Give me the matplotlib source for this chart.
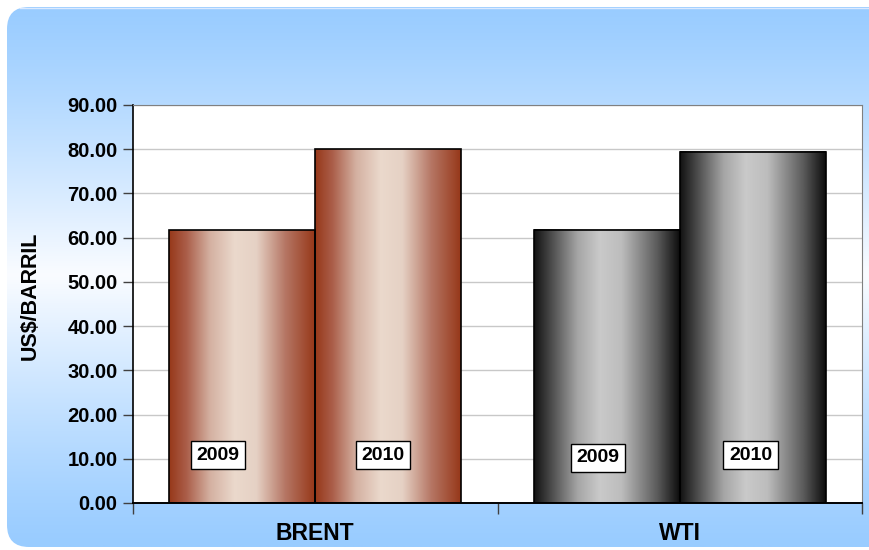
import matplotlib
matplotlib.use('Agg')
import matplotlib.pyplot as plt
import numpy as np
from matplotlib.colors import LinearSegmentedColormap
from matplotlib.patches import FancyBboxPatch, Rectangle

# data
categories = ["BRENT", "WTI"]
years = ["2009", "2010"]
values_2009 = [61.7, 61.8]
values_2010 = [80.0, 79.4]
yticks = [0, 10, 20, 30, 40, 50, 60, 70, 80, 90]

plt.rcParams['font.family'] = ['Liberation Sans', 'DejaVu Sans']
plt.rcParams['font.weight'] = 'bold'

W, H = 869, 550
fig = plt.figure(figsize=(W/100, H/100), dpi=100)
fig.patch.set_facecolor('white')

# background rounded panel with vertical gradient
bg = fig.add_axes([0, 0, 1, 1])
bg.set_xlim(0, W)
bg.set_ylim(H, 0)
bg.axis('off')
ys = np.linspace(0, 1, 300)
top = np.array([153, 204, 255]) / 255
mid = np.array([250, 252, 255]) / 255
t = np.clip(1 - np.abs(ys - 0.5) / 0.49, 0, 1) ** 1.2
grad = top[None, :] * (1 - t[:, None]) + mid[None, :] * t[:, None]
grad = np.repeat(grad[:, None, :], 2, axis=1)
panel = FancyBboxPatch((7, 7), 920, 540, boxstyle="round,pad=0,rounding_size=22",
                       facecolor='none', edgecolor='none')
bg.add_patch(panel)
im = bg.imshow(grad, extent=[0, W, H, 0], aspect='auto', interpolation='bilinear')
im.set_clip_path(panel)
bg.plot([20, W], [7.5, 7.5], color='#dbeaff', lw=1)

# plot area
x0, x1, y0, y1 = 133, 862, 105, 503
ax = fig.add_axes([x0/W, 1 - y1/H, (x1-x0)/W, (y1-y0)/H])
ax.set_facecolor('white')

brown = LinearSegmentedColormap.from_list('brown', [
    (0.0, (0.59, 0.22, 0.10)), (0.12, (0.67, 0.37, 0.29)), (0.28, (0.83, 0.69, 0.63)),
    (0.45, (0.92, 0.85, 0.80)), (0.6, (0.90, 0.82, 0.77)), (0.8, (0.71, 0.46, 0.39)),
    (1.0, (0.59, 0.22, 0.10))])
gray = LinearSegmentedColormap.from_list('gray', [
    (0.0, (0.07, 0.07, 0.07)), (0.12, (0.30, 0.30, 0.30)), (0.3, (0.65, 0.65, 0.65)),
    (0.45, (0.79, 0.79, 0.79)), (0.6, (0.74, 0.74, 0.74)), (0.85, (0.35, 0.35, 0.35)),
    (1.0, (0.05, 0.05, 0.05))])
cmaps = [brown, gray]

bw = 0.4
gx = np.linspace(0, 1, 256)[None, :]
for i, cat in enumerate(categories):
    for j, v in enumerate([values_2009[i], values_2010[i]]):
        left = i - bw + j * bw
        ax.imshow(gx, extent=[left, left + bw, 0, v], aspect='auto', cmap=cmaps[i],
                  interpolation='bilinear', zorder=2)
        ax.add_patch(Rectangle((left, 0), bw, v, facecolor='none', edgecolor='black',
                               lw=1.2, zorder=3))
ax.set_xlim(-0.5, 1.5)
ax.set_ylim(0, 90)

# year labels
label_pos = [(-0.267, 10.85), (0.186, 10.85), (0.776, 10.2), (1.195, 10.85)]
k = 0
for i in range(len(categories)):
    for yr in years:
        lx, ly = label_pos[k]
        ax.text(lx, ly, yr, ha='center', va='center', fontsize=14, fontweight='bold',
                zorder=5, bbox=dict(boxstyle='square,pad=0.3', facecolor='white',
                                    edgecolor='black', lw=1))
        k += 1

ax.set_yticks(yticks)
ax.set_yticklabels([f"{v:.2f}" for v in yticks], fontsize=14.5, fontweight='bold')
ax.yaxis.grid(True, color='#c8c8c8', lw=1)
ax.set_axisbelow(True)
ax.tick_params(axis='y', direction='out', length=7, width=1, color='#404040', pad=4)
ax.set_xticks([-0.5, 0.5, 1.5])
ax.set_xticklabels([])
ax.tick_params(axis='x', direction='out', length=8, width=1, color='#404040')
for xc, cat in enumerate(categories):
    ax.text(xc, -7.0, cat, ha='center', va='center', fontsize=16.5, fontweight='bold',
            transform=ax.transData, clip_on=False)
ax.set_ylabel('US$/BARRIL', fontsize=15.5, fontweight='bold')
ax.yaxis.set_label_coords(-0.126, 0.52)

ax.spines['left'].set_color('black')
ax.spines['left'].set_linewidth(1.2)
ax.spines['bottom'].set_color('black')
ax.spines['bottom'].set_linewidth(1.4)
ax.spines['top'].set_color('#808080')
ax.spines['right'].set_color('#808080')

fig.savefig('out.png', dpi=100)
